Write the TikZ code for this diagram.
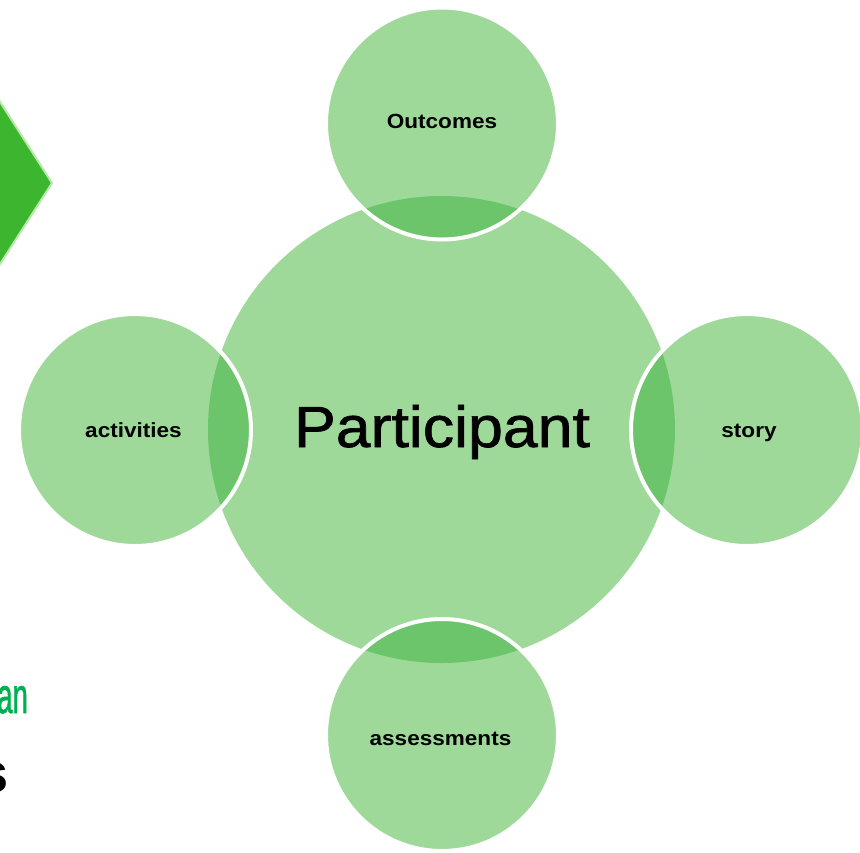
\documentclass[tikz,border=0pt]{standalone}
\usepackage{fontspec}
\setmainfont{Liberation Sans}
\newfontfamily\lblfont[FakeStretch=1.1]{Liberation Sans}
\newfontfamily\bigfont[FakeStretch=1.08,FakeBold=1.2]{Liberation Sans}
\newfontfamily\anfont[FakeBold=1.5]{Liberation Sans}
\definecolor{base}{HTML}{9ED99A}
\definecolor{lens}{HTML}{6CC56A}
\definecolor{dia}{HTML}{3CB52F}
\definecolor{diaglow}{HTML}{B8E8A8}
\definecolor{angreen}{HTML}{00B050}
\begin{document}
\begin{tikzpicture}[x=1pt,y=-1pt,
  sat/.style={circle,minimum size=232pt,inner sep=0pt,draw=white,line width=4pt},
  lbl/.style={anchor=base,inner sep=0pt,font=\lblfont\bfseries\fontsize{20.5}{24}\selectfont}]
\useasboundingbox (0,0) rectangle (860,852);
\clip (0,0) rectangle (860,852);
% partial diamond
\fill[dia,draw=diaglow,line width=2pt] (52,183) -- (-30,55) -- (-30,311) -- cycle;
% partial texts at the left
\node[anchor=base east,inner sep=0pt,text=angreen,xscale=0.55,font=\anfont\fontsize{50}{60}\selectfont] (an) at (28,713) {an};
\node[anchor=base east,inner sep=0pt,font=\bfseries\fontsize{56}{66}\selectfont] (s) at (9,792) {s};
% centres
\coordinate (pt) at (442,123.5);
\coordinate (pl) at (135,430);
\coordinate (pr) at (747,430);
\coordinate (pb) at (442,735);
% central circle
\node[circle,fill=base,minimum size=467pt,inner sep=0pt] (c) at (441.5,429.5) {};
% satellite fills
\foreach \p in {pt,pl,pr,pb} {\fill[base] (\p) circle (116pt);}
% lenses
\begin{scope}
  \clip (441.5,429.5) circle (233.5pt);
  \foreach \p in {pt,pl,pr,pb} {\fill[lens] (\p) circle (116pt);}
\end{scope}
% satellite outlines
\node[sat] (top) at (pt) {};
\node[sat] (left) at (pl) {};
\node[sat] (right) at (pr) {};
\node[sat] (bottom) at (pb) {};
% labels
\node[anchor=base,inner sep=0pt,font=\bigfont\fontsize{58}{70}\selectfont] (ptext) at (442,447) {Participant};
\node[lbl] (ltop) at (442,128) {Outcomes};
\node[lbl] (lleft) at (133.5,437) {activities};
\node[lbl] (lright) at (749,437) {story};
\node[lbl] (lbottom) at (440.5,745) {assessments};
\end{tikzpicture}
\end{document}
